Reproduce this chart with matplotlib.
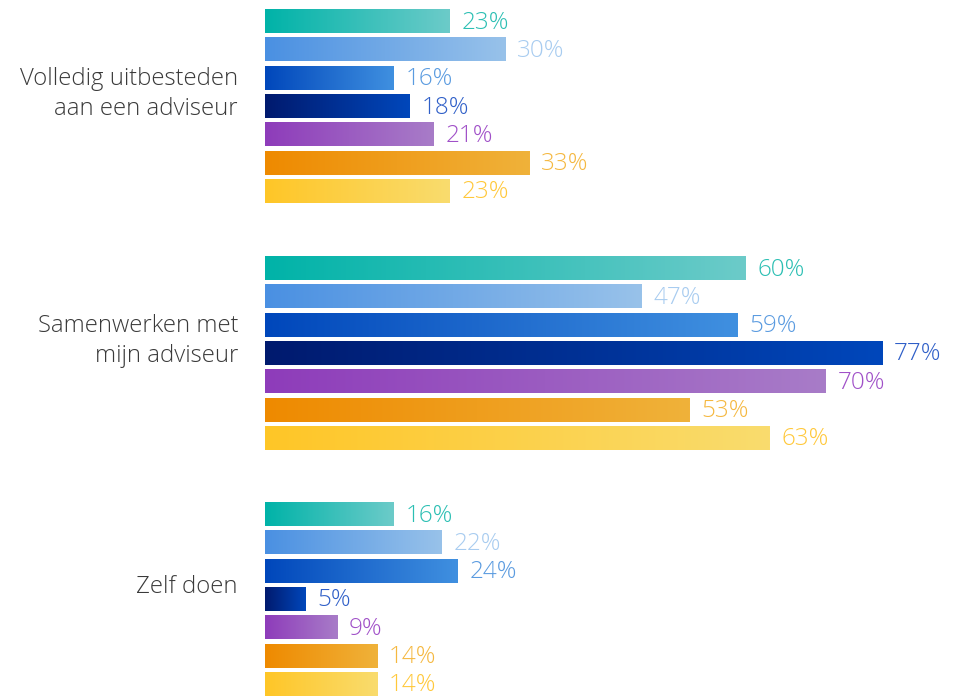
import matplotlib.pyplot as plt
import numpy as np
from matplotlib.colors import LinearSegmentedColormap

plt.rcParams['font.family'] = ['Open Sans', 'DejaVu Sans']

groups = ['Volledig uitbesteden\naan een adviseur', 'Samenwerken met\nmijn adviseur', 'Zelf doen']
values = [
    [23, 30, 16, 18, 21, 33, 23],
    [60, 47, 59, 77, 70, 53, 63],
    [16, 22, 24, 5, 9, 14, 14],
]
# gradient start / end per series, and label colour
grad_start = ['#00B3A8', '#4A90E2', '#0047BB', '#001A6E', '#8E3CBA', '#EE8A00', '#FFC627']
grad_end = ['#6CCBC9', '#98C2EA', '#4090E0', '#0047BB', '#A87CC8', '#F0B23A', '#F9DC6E']
label_colors = ['#2BBFB3', '#A8CCF0', '#5A9BE0', '#2F5FC8', '#A050C8', '#F5B840', '#FFC83A']

W, H = 965, 696
fig = plt.figure(figsize=(W / 100, H / 100), dpi=100)
ax = fig.add_axes([265 / W, 0, (W - 265) / W, 1])

px_per_pct = 617 / 77
group_centers = [106, 353, 599]
bar_pitch = 28.33
bar_h = 24

grad = np.linspace(0, 1, 256).reshape(1, -1)
for g, center in enumerate(group_centers):
    for j, v in enumerate(values[g]):
        yc = center + (j - 3) * bar_pitch
        cmap = LinearSegmentedColormap.from_list('c%d' % j, [grad_start[j], grad_end[j]])
        ax.imshow(grad, cmap=cmap, aspect='auto', interpolation='bilinear',
                  extent=[0, v, yc + bar_h / 2, yc - bar_h / 2], zorder=2)
        ax.text(v + 12 / px_per_pct, yc + 1.5, f'{v}%', color=label_colors[j],
                fontsize=17.5, fontweight='light', va='center', ha='left', clip_on=False)
    # group label, sits a bit above the group centre
    ax.text(-27 / px_per_pct, center - 12, groups[g], fontsize=17.2, fontweight='light',
            color='#3a3a3a', ha='right', va='center', linespacing=1.3, clip_on=False)

ax.set_xlim(0, (W - 265) / px_per_pct)
ax.set_ylim(H, 0)
ax.set_xticks([])
ax.set_yticks([])
for s in ax.spines.values():
    s.set_visible(False)

fig.savefig('out.png', dpi=100)
